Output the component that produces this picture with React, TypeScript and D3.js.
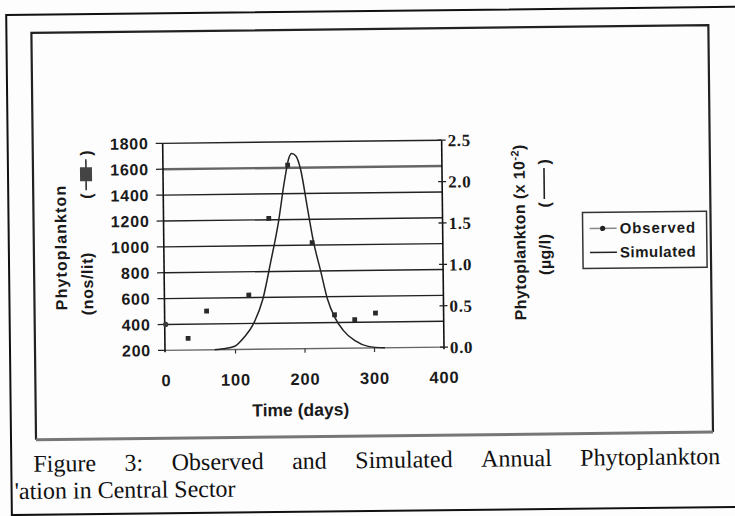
import { useEffect, useRef } from 'react';
import * as d3 from 'd3';

// observed phytoplankton (nos/lit), left axis
const observedDays = [0, 32, 59, 120, 150, 178, 212, 243, 272, 302];
const observedValues = [400, 290, 500, 620, 1210, 1620, 1020, 460, 420, 470];

// simulated phytoplankton (x 10^-2 ug/l), right axis
const simulatedDays = [70, 82, 99, 113, 127, 140, 152, 164, 173, 180, 184, 190, 197, 205, 214, 224, 233, 243, 255, 272, 291, 315];
const simulatedValues = [0.0, 0.01, 0.04, 0.15, 0.32, 0.6, 1.05, 1.54, 2.02, 2.31, 2.36, 2.33, 2.15, 1.74, 1.29, 0.93, 0.6, 0.38, 0.22, 0.09, 0.02, 0.0];

const xTicks = [0, 100, 200, 300, 400];
const leftTicks = [200, 400, 600, 800, 1000, 1200, 1400, 1600, 1800];
const rightTicks = [0, 0.5, 1, 1.5, 2, 2.5];
const rightTickLabels = ['0.0', '0.5', '1.0', '1.5', '2.0', '2.5'];

const captionWords = ['Figure', '3:', 'Observed', 'and', 'Simulated', 'Annual', 'Phytoplankton'];
const captionLine2 = "'ation in Central Sector";

const sans = 'Liberation Sans, Arial, sans-serif';
const serif = 'Liberation Serif, Times New Roman, serif';

export default function App() {
  const captionRef = useRef<SVGGElement>(null);

  const x = d3.scaleLinear().domain([0, 400]).range([165, 443]);
  const yLeft = d3.scaleLinear().domain([200, 1800]).range([348, 141]);
  const yRight = d3.scaleLinear().domain([0, 2.5]).range([348, 141]);

  const simLine = d3.line<number>()
    .x((d, i) => x(simulatedDays[i]))
    .y(d => yRight(d))
    .curve(d3.curveMonotoneX);

  // justified first caption line
  useEffect(() => {
    const g = d3.select(captionRef.current);
    g.selectAll('*').remove();
    const left = 31, right = 718, baseline = 468;
    const texts = captionWords.map(w =>
      g.append('text')
        .attr('y', baseline)
        .style('font-family', serif)
        .style('font-size', '24px')
        .attr('fill', '#111')
        .text(w)
    );
    const widths = texts.map(t => (t.node() as SVGTextElement).getComputedTextLength());
    const gap = (right - left - d3.sum(widths)) / (captionWords.length - 1);
    let cx = left;
    texts.forEach((t, i) => {
      t.attr('x', cx);
      cx += widths[i] + gap;
    });
  }, []);

  return (
    <svg width={735} height={516} style={{ position: 'absolute', left: 0, top: 0, background: '#fdfdfd' }}>
      <g transform="rotate(-0.65 370 260)">
        {/* outer page frame */}
        <path d="M760,11 H9 V511 H760" fill="none" stroke="#111" strokeWidth={2} />
        {/* chart box */}
        <path d="M34,436 V29 H711 V436" fill="none" stroke="#222" strokeWidth={2.2} />
        <line x1={34} x2={711} y1={436} y2={436} stroke="#777" strokeWidth={3} />

        {/* gridlines */}
        {leftTicks.map(t => (
          <line key={'g' + t} x1={164} x2={443} y1={yLeft(t)} y2={yLeft(t)}
            stroke={t === 1600 || t === 200 ? '#666' : '#222'} strokeWidth={t === 1600 ? 2.4 : 1.4} />
        ))}

        {/* left axis */}
        <line x1={164} x2={164} y1={141} y2={350} stroke="#111" strokeWidth={1.6} />
        {leftTicks.map(t => (
          <g key={'l' + t}>
            <line x1={157} x2={164} y1={yLeft(t)} y2={yLeft(t)} stroke="#222" strokeWidth={1.3} />
            <text x={150} y={yLeft(t)} dy="0.36em" textAnchor="end" fontFamily={sans} fontWeight="bold"
              fontSize={16} letterSpacing={0.8} fill="#1a1a1a">{t}</text>
          </g>
        ))}

        {/* right axis */}
        <line x1={443} x2={443} y1={141} y2={350} stroke="#111" strokeWidth={1.6} />
        {rightTicks.map((t, i) => (
          <g key={'r' + t}>
            <line x1={439} x2={447} y1={yRight(t)} y2={yRight(t)} stroke="#222" strokeWidth={1.3} />
            <text x={449} y={yRight(t)} dy="0.36em" fontFamily={serif} fontWeight="bold"
              fontSize={17} letterSpacing={0.6} fill="#1a1a1a">{rightTickLabels[i]}</text>
          </g>
        ))}

        {/* x axis */}
        {xTicks.map(t => (
          <g key={'x' + t}>
            {t > 0 && t < 400 && <line x1={x(t)} x2={x(t)} y1={348} y2={352} stroke="#333" strokeWidth={1.2} />}
            <text x={x(t)} y={384} textAnchor="middle" fontFamily={sans} fontWeight="bold"
              fontSize={16.5} letterSpacing={0.8} fill="#1a1a1a">{t}</text>
          </g>
        ))}
        <text x={299} y={409} dy="0.35em" textAnchor="middle" fontFamily={sans} fontWeight="bold"
          fontSize={17.5} fill="#1a1a1a">Time (days)</text>

        {/* simulated curve */}
        <path d={simLine(simulatedValues) || ''} fill="none" stroke="#222" strokeWidth={1.5} />

        {/* observed points */}
        {observedValues.map((v, i) =>
          i === 0 ? (
            <circle key={'o' + i} cx={x(observedDays[i])} cy={yLeft(v)} r={2.6} fill="#3a3a3a" />
          ) : (
            <rect key={'o' + i} x={x(observedDays[i]) - 2.4} y={yLeft(v) - 2.4} width={4.8} height={4.8} fill="#2a2a2a" />
          )
        )}

        {/* left axis title */}
        <g transform="translate(61,244) rotate(-90)">
          <text x={0} y={0} dy="0.35em" textAnchor="middle" fontFamily={sans} fontWeight="bold"
            fontSize={16} letterSpacing={1.1} fill="#1a1a1a">Phytoplankton</text>
        </g>
        <g transform="translate(87,0) rotate(-90)">
          <text x={-312} y={0} dy="0.35em" fontFamily={sans} fontWeight="bold"
            fontSize={16} letterSpacing={0.6} fill="#1a1a1a">(nos/lit)</text>
          <text x={-193} y={0} dy="0.35em" textAnchor="middle" fontFamily={sans} fontWeight="bold"
            fontSize={16} fill="#1a1a1a">(</text>
          <line x1={-187} x2={-156} y1={0} y2={0} stroke="#333" strokeWidth={1.6} />
          <rect x={-178} y={-6} width={14} height={12} fill="#444" />
          <text x={-150} y={0} dy="0.35em" textAnchor="middle" fontFamily={sans} fontWeight="bold"
            fontSize={16} fill="#1a1a1a">)</text>
        </g>

        {/* right axis title */}
        <g transform="translate(520,0) rotate(-90)">
          <text x={-322} y={0} dy="0.35em" fontFamily={sans} fontWeight="bold"
            fontSize={16} letterSpacing={0.4} fill="#1a1a1a">
            Phytoplankton  (x 10<tspan dy="-6" fontSize={11}>-2</tspan><tspan dy="6">)</tspan>
          </text>
        </g>
        <g transform="translate(545,0) rotate(-90)">
          <text x={-277} y={0} dy="0.35em" fontFamily={sans} fontWeight="bold"
            fontSize={16} letterSpacing={0.5} fill="#1a1a1a">(µg/l)</text>
          <text x={-207} y={0} dy="0.35em" textAnchor="middle" fontFamily={sans} fontWeight="bold"
            fontSize={16} fill="#1a1a1a">(</text>
          <line x1={-201} x2={-170} y1={0} y2={0} stroke="#222" strokeWidth={1.6} />
          <text x={-164} y={0} dy="0.35em" textAnchor="middle" fontFamily={sans} fontWeight="bold"
            fontSize={16} fill="#1a1a1a">)</text>
        </g>

        {/* legend */}
        <rect x={583} y={215} width={124} height={56} fill="none" stroke="#333" strokeWidth={1.5} />
        <line x1={590} x2={617} y1={231} y2={231} stroke="#888" strokeWidth={1.5} />
        <circle cx={603} cy={231} r={2.6} fill="#222" />
        <text x={620} y={231} dy="0.35em" fontFamily={sans} fontWeight="bold" fontSize={15}
          letterSpacing={0.9} fill="#1a1a1a">Observed</text>
        <line x1={590} x2={617} y1={255} y2={255} stroke="#222" strokeWidth={1.5} />
        <text x={620} y={255} dy="0.35em" fontFamily={sans} fontWeight="bold" fontSize={15}
          letterSpacing={0.5} fill="#1a1a1a">Simulated</text>

        {/* caption */}
        <g ref={captionRef} />
        <text x={12} y={495} fontFamily={serif} fontSize={24} fill="#111">{captionLine2}</text>
      </g>
    </svg>
  );
}
